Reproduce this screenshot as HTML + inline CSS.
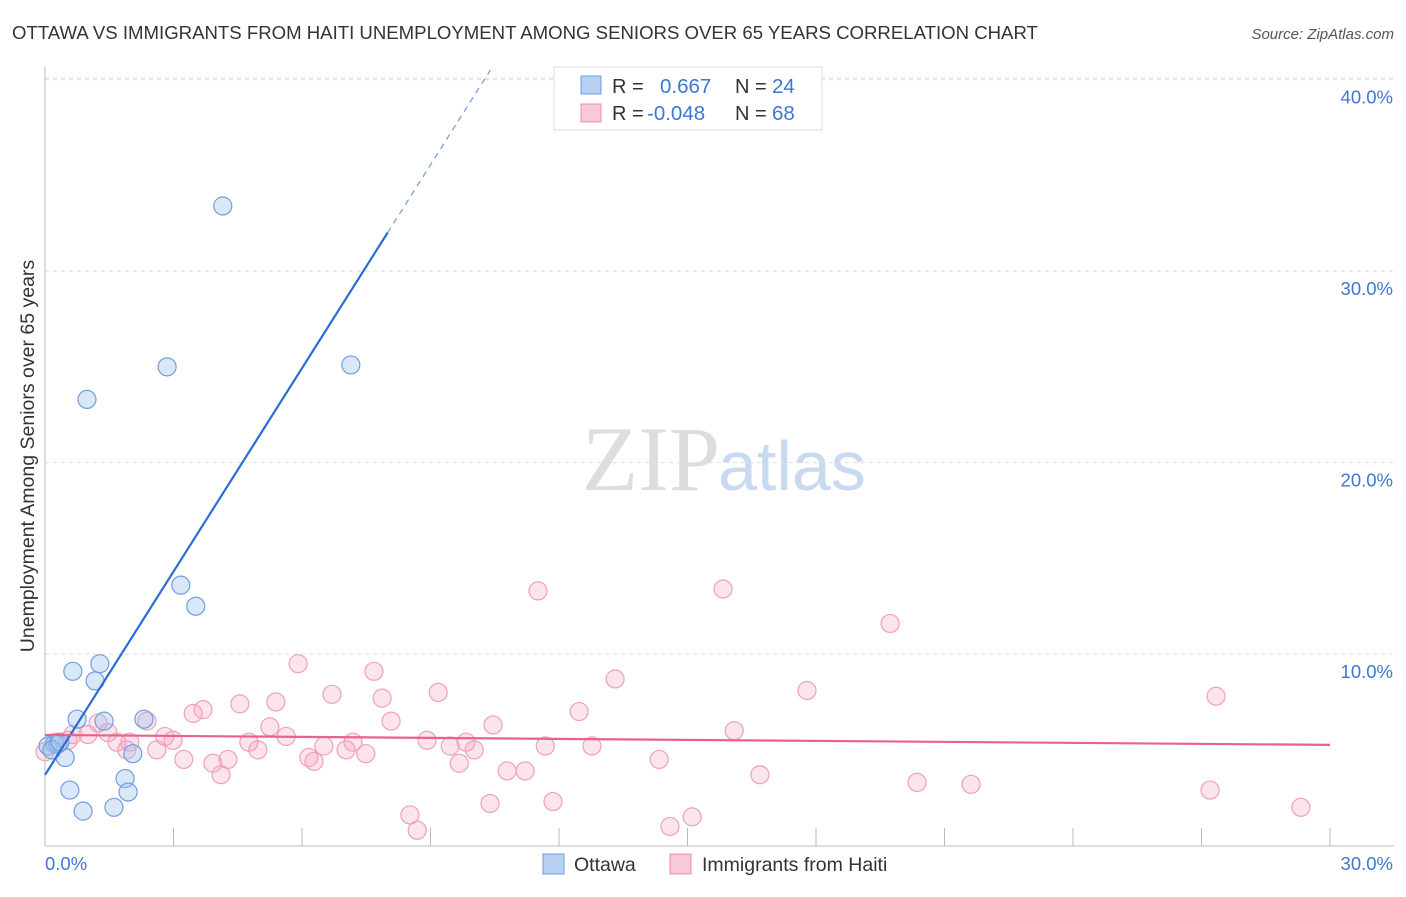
<!DOCTYPE html>
<html><head><meta charset="utf-8"><style>
body{margin:0;background:#fff;font-family:"Liberation Sans",sans-serif}
</style></head><body>
<svg id="chart" width="1406" height="892" xmlns="http://www.w3.org/2000/svg">
<text x="12" y="39" font-size="18.6" fill="#333">OTTAWA VS IMMIGRANTS FROM HAITI UNEMPLOYMENT AMONG SENIORS OVER 65 YEARS CORRELATION CHART</text>
<text x="1394" y="39" font-size="15" fill="#555" text-anchor="end" font-style="italic">Source: ZipAtlas.com</text>
<text x="720" y="490" font-size="92" fill="#ddd" text-anchor="end" font-family="Liberation Serif,serif">ZIP</text>
<text x="718" y="490" font-size="70" fill="#c9d9ef">atlas</text>
<g id="grid"></g><g id="axes"></g><g id="marks"></g>
<text transform="translate(34,456) rotate(-90)" font-size="19.5" fill="#333" text-anchor="middle">Unemployment Among Seniors over 65 years</text>
<g>
<rect x="554" y="67" width="268" height="63" fill="#fff" stroke="#ddd"/>
<rect x="581" y="76" width="20" height="18" fill="#b7d0f2" stroke="#6b9be0"/>
<rect x="581" y="104" width="20" height="18" fill="#f8c9d6" stroke="#ec8fab"/>
<text x="612" y="93" font-size="20" fill="#333">R = </text><text x="660" y="93" font-size="20.5" fill="#3f76d4">0.667</text>
<text x="735" y="93" font-size="20" fill="#333">N = </text><text x="772" y="93" font-size="20.5" fill="#3f76d4">24</text>
<text x="612" y="120" font-size="20" fill="#333">R = </text><text x="647" y="120" font-size="20.5" fill="#3f76d4">-0.048</text>
<text x="735" y="120" font-size="20" fill="#333">N = </text><text x="772" y="120" font-size="20.5" fill="#3f76d4">68</text>
</g>
<g>
<rect x="543" y="854" width="21" height="20" fill="#b7d0f2" stroke="#6b9be0"/>
<text x="574" y="871" font-size="19.5" fill="#333">Ottawa</text>
<rect x="670" y="854" width="21" height="20" fill="#f8c9d6" stroke="#ec8fab"/>
<text x="702" y="871" font-size="19.5" fill="#333">Immigrants from Haiti</text>
</g>
</svg>
<script>
const yTicks=[10,20,30,40];
const yTickLabels=["10.0%","20.0%","30.0%","40.0%"];
const xTicks=[0,3,6,9,12,15,18,21,24,27,30];
const ottawaX=[4.15,2.85,0.98,7.14,3.17,3.52,0.65,1.28,1.17,0.75,1.38,2.31,2.05,0.47,0.23,0.07,1.87,0.58,1.94,0.89,1.61,0.30,0.16,0.35];
const ottawaY=[33.4,25.0,23.3,25.1,13.6,12.5,9.1,9.5,8.6,6.6,6.5,6.6,4.8,4.6,5.3,5.2,3.5,2.9,2.8,1.8,2.0,5.3,5.0,5.4];
const haitiX=[11.51,15.83,19.73,27.34,5.91,7.68,13.31,17.79,6.70,9.18,7.87,4.55,5.39,3.69,3.46,12.47,2.38,8.08,10.46,5.25,16.09,1.24,1.00,1.47,2.80,2.99,4.76,5.63,7.19,8.92,9.83,11.68,12.77,1.98,0.23,0.54,1.68,2.61,1.91,4.97,6.51,7.03,7.49,9.46,10.02,6.16,6.28,3.24,3.92,4.27,9.67,14.34,10.79,11.21,4.11,16.69,20.36,21.62,27.20,29.32,10.39,11.86,8.52,8.69,14.59,15.11,0.65,0.00];
const haitiY=[13.3,13.4,11.6,7.8,9.5,9.1,8.7,8.1,7.9,8.0,7.7,7.4,7.5,7.1,6.9,7.0,6.5,6.5,6.3,6.2,6.0,6.4,5.8,5.9,5.7,5.5,5.4,5.7,5.4,5.5,5.4,5.2,5.2,5.4,5.4,5.5,5.4,5.0,5.0,5.0,5.2,5.0,4.8,5.2,5.0,4.6,4.4,4.5,4.3,4.5,4.3,4.5,3.9,3.9,3.7,3.7,3.3,3.2,2.9,2.0,2.2,2.3,1.6,0.8,1.0,1.5,5.8,4.9];
const ottawaTrend=[3.69,3.54];
const haitiTrend=[5.78,5.26];
const X0=45,X1=1330,Y0=845.6,YP=19.15;
const xs=v=>X0+(X1-X0)*v/30, ys=v=>Y0-v*YP;
const NS="http://www.w3.org/2000/svg";
function mk(t,a,p){const e=document.createElementNS(NS,t);for(const k in a)e.setAttribute(k,a[k]);p.appendChild(e);return e;}
const grid=document.getElementById('grid'),axes=document.getElementById('axes'),marks=document.getElementById('marks');
yTicks.forEach((t,i)=>{const l=mk('line',{x1:45,x2:1394,y1:ys(t),y2:ys(t),stroke:'#ddd','stroke-dasharray':'4 4'},grid);


const tx=mk('text',{x:1393,y:ys(t)+24,'font-size':18.5,fill:'#3f76d4','text-anchor':'end'},axes);tx.textContent=yTickLabels[i];

});
const topLine=mk('line',{x1:45,x2:1394,y1:78,y2:78,stroke:'#ddd','stroke-dasharray':'4 4'},grid);


const ya=mk('line',{x1:45,x2:45,y1:67,y2:846,stroke:'#bbb'},axes);


const xa=mk('line',{x1:45,x2:1394,y1:846,y2:846,stroke:'#bbb'},axes);


xTicks.forEach(t=>{if(t>0){const tk=mk('line',{x1:xs(t),x2:xs(t),y1:828,y2:846,stroke:'#bbb'},axes);

}});
const xl0=mk('text',{x:45,y:870,'font-size':18.5,fill:'#3f76d4'},axes);xl0.textContent='0.0%';


const xl1=mk('text',{x:1393,y:870,'font-size':18.5,fill:'#3f76d4','text-anchor':'end'},axes);xl1.textContent='30.0%';


haitiX.forEach((x,i)=>{const c=mk('circle',{cx:xs(x),cy:ys(haitiY[i]),r:9,fill:'rgba(244,167,192,0.3)',stroke:'#f0a0b8','stroke-width':1.2},marks);

});
ottawaX.forEach((x,i)=>{const c=mk('circle',{cx:xs(x),cy:ys(ottawaY[i]),r:9,fill:'rgba(160,196,240,0.4)',stroke:'#6f9fe0','stroke-width':1.2},marks);

});
const ob=ottawaTrend[0],os=ottawaTrend[1];
const tl=mk('line',{x1:xs(0),y1:ys(ob),x2:xs(8),y2:ys(ob+os*8),stroke:'#2a6dd4','stroke-width':2.2},marks);


const xe=(40.5-ob)/os;
const td=mk('line',{x1:xs(8),y1:ys(ob+os*8),x2:xs(xe),y2:ys(ob+os*xe),stroke:'#6b9be0','stroke-width':1.2,'stroke-dasharray':'6 5'},marks);


const hl=mk('line',{x1:xs(0),y1:ys(haitiTrend[0]),x2:xs(30),y2:ys(haitiTrend[1]),stroke:'#e8628c','stroke-width':2.2},marks);


</script>
</body></html>
